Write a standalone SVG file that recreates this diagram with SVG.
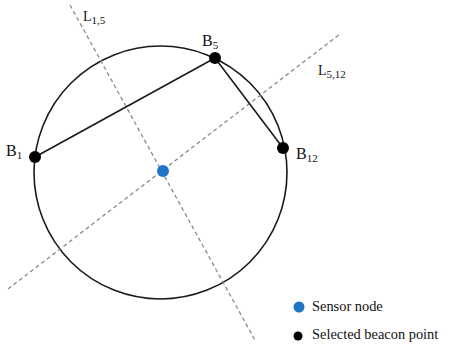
<svg xmlns="http://www.w3.org/2000/svg" width="452" height="345" viewBox="0 0 452 345">
<style>
.lbl{font-family:"Liberation Serif","Times New Roman",serif;fill:#111}
.big{font-size:16px}
.mid{font-size:14px}
.leg{font-size:14.4px}
.sub{font-size:11px}
.dash{stroke:#8a8a8a;stroke-width:1.3;stroke-dasharray:4,3;fill:none}
.chord{stroke:#1a1a1a;stroke-width:1.6;fill:none}
.beacon{fill:#000}
.sensor{fill:#1f74c6}
</style>
<rect width="452" height="345" fill="#fff"/>
<g id="circle">
<circle cx="160.5" cy="172.5" r="126.5" fill="none" stroke="#1a1a1a" stroke-width="1.6"/>
</g>
<g id="connectors">
<line class="dash" x1="70" y1="5" x2="256" y2="342"/>
<line class="dash" x1="8" y1="289" x2="340" y2="34"/>
<line class="chord" x1="35" y1="157" x2="215" y2="58"/>
<line class="chord" x1="215" y1="58" x2="283" y2="148"/>
</g>
<g id="L15"><text class="lbl mid" x="83" y="21">L<tspan class="sub" dy="3">1,5</tspan></text></g>
<g id="L512"><text class="lbl mid" x="318" y="75">L<tspan class="sub" dy="3">5,12</tspan></text></g>
<g id="B1">
<circle class="beacon" cx="35" cy="157" r="6"/>
<text class="lbl big" x="6" y="156">B<tspan class="sub" dy="3">1</tspan></text>
</g>
<g id="B5">
<circle class="beacon" cx="215" cy="58" r="6"/>
<text class="lbl big" x="202" y="46">B<tspan class="sub" dy="3">5</tspan></text>
</g>
<g id="B12">
<circle class="beacon" cx="283" cy="148" r="6"/>
<text class="lbl big" x="296" y="159">B<tspan class="sub" dy="3">12</tspan></text>
</g>
<g id="sensor">
<circle class="sensor" cx="163" cy="171" r="6"/>
</g>
<g id="legend">
<circle class="sensor" cx="299" cy="307" r="5.5"/>
<text class="lbl leg" x="312" y="311">Sensor node</text>
<circle class="beacon" cx="298" cy="336" r="4.5"/>
<text class="lbl leg" x="312" y="339">Selected beacon point</text>
</g>
</svg>
